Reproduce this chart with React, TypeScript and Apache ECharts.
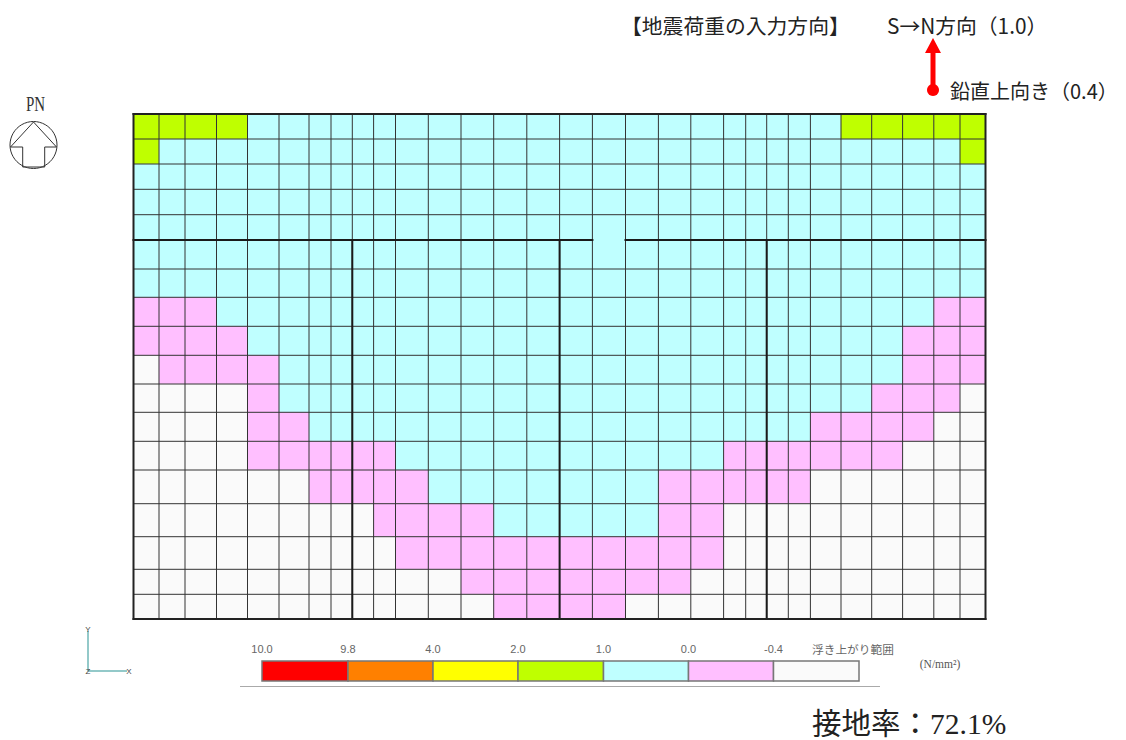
import React, { useEffect, useRef } from "react";
import * as echarts from "echarts";

// Column and row boundaries of the mesh, in plot units
const xEdges = [0, 25.5, 51.5, 83, 114, 145.5, 175.5, 197.5, 218.8, 240.1, 262, 294.8, 327.5, 360.2, 393.3, 426.1, 458.9, 492, 524.9, 557.3, 590.1, 612.2, 633.2, 654.8, 676.9, 707.5, 738.2, 769.1, 800.3, 826.5, 852];
const yEdges = [0, 25, 50, 75.3, 100.7, 126, 155, 183.3, 212.3, 241.3, 270, 298.3, 327.3, 356, 389.7, 422.7, 455.3, 480.3, 505];

// G: 1.0-2.0, C: 0.0-1.0, M: -0.4-0.0, W: uplift
const cellRows = [
  "GGGGCCCCCCCCCCCCCCCCCCCCCGGGGG",
  "GCCCCCCCCCCCCCCCCCCCCCCCCCCCCG",
  "CCCCCCCCCCCCCCCCCCCCCCCCCCCCCC",
  "CCCCCCCCCCCCCCCCCCCCCCCCCCCCCC",
  "CCCCCCCCCCCCCCCCCCCCCCCCCCCCCC",
  "CCCCCCCCCCCCCCCCCCCCCCCCCCCCCC",
  "CCCCCCCCCCCCCCCCCCCCCCCCCCCCCC",
  "MMMCCCCCCCCCCCCCCCCCCCCCCCCCMM",
  "MMMMCCCCCCCCCCCCCCCCCCCCCCCMMM",
  "WMMMMCCCCCCCCCCCCCCCCCCCCCCMMM",
  "WWWWMCCCCCCCCCCCCCCCCCCCCCMMMW",
  "WWWWMMCCCCCCCCCCCCCCCCCCMMMMWW",
  "WWWWMMMMMMCCCCCCCCCCMMMMMMMWWW",
  "WWWWWWMMMMMCCCCCCCMMMMMMWWWWWW",
  "WWWWWWWWWMMMMCCCCCMMWWWWWWWWWW",
  "WWWWWWWWWWMMMMMMMMMMWWWWWWWWWW",
  "WWWWWWWWWWWWMMMMMMMWWWWWWWWWWW",
  "WWWWWWWWWWWWWMMMMWWWWWWWWWWWWW",
];
const cellColors: Record<string, string> = { G: "#BFFF00", C: "#BFFFFF", M: "#FFBFFF", W: "#FAFAFA" };

// Wall lines: column index of the heavy verticals, below row edge 5
const wallColumns = [8, 15, 22];
const wallRowEdge = 5;
const wallGapColumn = 16;

// Legend
const legendEdges = [262, 348, 433, 518, 603.5, 688.5, 773.5, 859];
const legendColors = ["#FF0000", "#FF8000", "#FFFF00", "#BFFF00", "#BFFFFF", "#FFBFFF", "#FAFAFA"];
const legendLabels = ["10.0", "9.8", "4.0", "2.0", "1.0", "0.0", "-0.4"];

const SERIF = '"Liberation Serif","Noto Sans CJK JP",serif';
const CJK = '"Noto Sans CJK JP","Liberation Serif",serif';
const SANS = '"Liberation Sans","Noto Sans CJK JP",sans-serif';

function label(text: string, x: number, y: number, size: number, family: string, align = "left", fill = "#222", extra: any = {}) {
  return {
    type: "text", x, y, silent: true, ...extra,
    style: { text, fontSize: size, fontFamily: family, fill, align, verticalAlign: "middle" },
  };
}

export default function App() {
  const ref = useRef<HTMLDivElement>(null);
  useEffect(() => {
    const chart = echarts.init(ref.current!, null, { renderer: "svg" });

    const cells: any[] = [];
    cellRows.forEach((row, r) => row.split("").forEach((c, i) => cells.push([i, r, c])));

    const xMax = xEdges[xEdges.length - 1];
    const yMax = yEdges[yEdges.length - 1];
    const thinLines: any[] = [];
    xEdges.slice(1, -1).forEach((x) => thinLines.push([x, 0, x, yMax]));
    yEdges.slice(1, -1).forEach((y, i) => {
      if (i + 1 !== wallRowEdge) thinLines.push([0, y, xMax, y]);
    });
    const yw = yEdges[wallRowEdge];
    const wallLines: any[] = [
      [0, yw, xEdges[wallGapColumn], yw],
      [xEdges[wallGapColumn + 1], yw, xMax, yw],
      ...wallColumns.map((c) => [xEdges[c], yw, xEdges[c], yMax]),
    ];
    const borderLines: any[] = [
      [0, 0, xMax, 0], [xMax, 0, xMax, yMax], [xMax, yMax, 0, yMax], [0, yMax, 0, 0],
    ];

    const lineSeries = (data: any[], width: number, color: string) => ({
      type: "custom", data, clip: false, silent: true,
      encode: { x: [0, 2], y: [1, 3] },
      renderItem: (_: any, api: any) => {
        const a = api.coord([api.value(0), api.value(1)]);
        const b = api.coord([api.value(2), api.value(3)]);
        return {
          type: "line",
          shape: { x1: a[0], y1: a[1], x2: b[0], y2: b[1] },
          style: { stroke: color, lineWidth: width, lineCap: "square" },
        };
      },
    });

    chart.setOption({
      animation: false,
      backgroundColor: "#ffffff",
      grid: { left: 133.5, top: 114, width: 852, height: 505 },
      xAxis: { type: "value", min: 0, max: xMax, show: false },
      yAxis: { type: "value", min: 0, max: yMax, inverse: true, show: false },
      series: [
        {
          type: "custom", data: cells, clip: false, silent: true,
          encode: { x: 0, y: 1 },
          renderItem: (_: any, api: any) => {
            const i = api.value(0), r = api.value(1);
            const a = api.coord([xEdges[i], yEdges[r]]);
            const b = api.coord([xEdges[i + 1], yEdges[r + 1]]);
            const c = cellRows[r][i];
            return {
              type: "rect",
              shape: { x: a[0], y: a[1], width: b[0] - a[0], height: b[1] - a[1] },
              style: { fill: cellColors[c], stroke: cellColors[c], lineWidth: 0.3 },
            };
          },
        },
        lineSeries(thinLines, 1, "#333333"),
        lineSeries(wallLines, 2, "#1a1a1a"),
        lineSeries(borderLines, 2, "#222222"),
      ],
      graphic: [
        // Load direction heading
        label("【地震荷重の入力方向】", 621, 25, 20.8, CJK),
        label("S→N方向（1.0）", 887, 25, 20.8, CJK),
        label("鉛直上向き（0.4）", 950, 90, 20, CJK),
        { type: "line", silent: true, shape: { x1: 933, y1: 52, x2: 933, y2: 90 }, style: { stroke: "#FF0000", lineWidth: 5 } },
        { type: "polygon", silent: true, shape: { points: [[933, 38], [925, 53], [941, 53]] }, style: { fill: "#FF0000" } },
        { type: "circle", silent: true, shape: { cx: 933, cy: 90, r: 6 }, style: { fill: "#FF0000" } },
        // North mark
        label("PN", 35.5, 104, 20, SERIF, "center", "#333", { scaleX: 0.75 }),
        { type: "circle", silent: true, shape: { cx: 33.5, cy: 145, r: 23.5 }, style: { fill: "none", stroke: "#333", lineWidth: 1 } },
        { type: "polygon", silent: true, shape: { points: [[33.5, 122], [10.5, 147], [22.7, 147], [22.7, 167], [44.7, 167], [44.7, 147], [56.5, 147]] }, style: { fill: "none", stroke: "#333", lineWidth: 1 } },
        // Axis triad
        { type: "line", silent: true, shape: { x1: 88, y1: 631, x2: 88, y2: 671 }, style: { stroke: "#6fb7b7", lineWidth: 1.5 } },
        { type: "line", silent: true, shape: { x1: 88, y1: 671, x2: 127, y2: 671 }, style: { stroke: "#6fb7b7", lineWidth: 1.5 } },
        label("Y", 88, 629, 8, SANS, "center", "#444"),
        label("Z", 88, 671, 8, SANS, "center", "#444"),
        label("X", 129, 671, 8, SANS, "center", "#444"),
        // Stress legend
        ...legendColors.map((c, i) => ({
          type: "rect", silent: true,
          shape: { x: legendEdges[i], y: 661, width: legendEdges[i + 1] - legendEdges[i], height: 20 },
          style: { fill: c, stroke: "#777", lineWidth: 1.5 },
        })),
        ...legendLabels.map((t, i) => label(t, legendEdges[i], 649.3, 11, SANS, "center", "#666")),
        label("浮き上がり範囲", 812, 648, 11.7, CJK, "left", "#666"),
        label("(N/mm²)", 940, 664, 11.5, SERIF, "center", "#555"),
        { type: "line", silent: true, shape: { x1: 240, y1: 686.5, x2: 880, y2: 686.5 }, style: { stroke: "#aaa", lineWidth: 1 } },
        // Contact ratio
        label("接地率：72.1%", 812, 724, 29.5, SERIF),
      ],
    });
    return () => chart.dispose();
  }, []);
  return <div ref={ref} style={{ position: "fixed", left: 0, top: 0, width: 1126, height: 740 }} />;
}
